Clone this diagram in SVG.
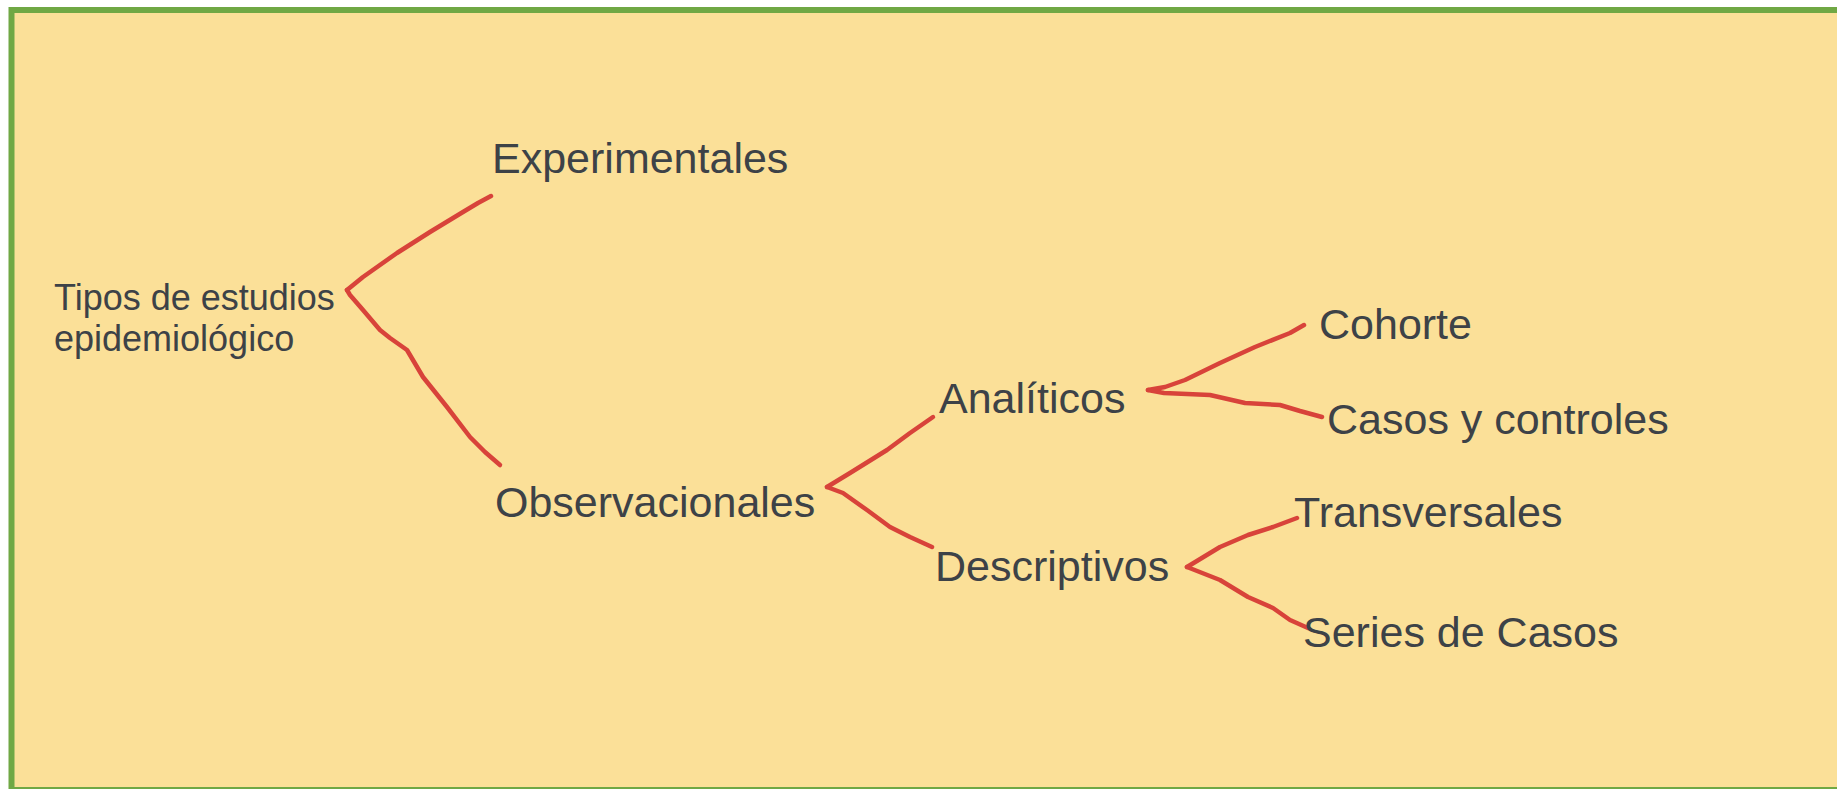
<svg xmlns="http://www.w3.org/2000/svg" width="1837" height="789" viewBox="0 0 1837 789">
<style>
.bg{fill:#FBE098;stroke:#70A844;stroke-width:6}
.lbl{font-family:"Liberation Sans",Arial,sans-serif;font-size:43px;fill:#3D4247}
.small{font-size:36px}
.con{fill:none;stroke:#D8433A;stroke-width:4.5;stroke-linecap:round;stroke-linejoin:round}
</style>
<rect class="bg" x="11.5" y="10" width="1900" height="780"/>
<g id="connectors">
<polyline class="con" points="347,290 363,277 397,253 430,232 463,212 478,203 491,196"/>
<polyline class="con" points="347,290 350,295 363,310 380,330 390,338 407,350 423,377 447,407 470,437 485,452 500,465"/>
<polyline class="con" points="827,487 850,473 887,450 910,433 933,417"/>
<polyline class="con" points="827,487 843,493 867,510 890,527 910,537 932,547"/>
<polyline class="con" points="1148,390 1165,387 1185,380 1220,363 1255,347 1290,333 1304,325"/>
<polyline class="con" points="1148,390 1164,393 1210,395 1245,403 1280,405 1300,411 1322,417"/>
<polyline class="con" points="1187,567 1220,547 1248,535 1273,527 1297,518"/>
<polyline class="con" points="1187,567 1220,580 1248,597 1273,608 1290,620 1308,628"/>
</g>
<g id="node-root"><text class="lbl small" x="54" y="310">Tipos de estudios</text><text class="lbl small" x="54" y="351">epidemiológico</text></g>
<g id="node-experimentales"><text class="lbl" x="492" y="173">Experimentales</text></g>
<g id="node-observacionales"><text class="lbl" x="495" y="517">Observacionales</text></g>
<g id="node-analiticos"><text class="lbl" x="939" y="413">Analíticos</text></g>
<g id="node-descriptivos"><text class="lbl" x="935" y="581">Descriptivos</text></g>
<g id="node-cohorte"><text class="lbl" x="1319" y="339">Cohorte</text></g>
<g id="node-casos"><text class="lbl" x="1327" y="434">Casos y controles</text></g>
<g id="node-transversales"><text class="lbl" x="1294" y="527">Transversales</text></g>
<g id="node-series"><text class="lbl" x="1303" y="647">Series de Casos</text></g>
</svg>
